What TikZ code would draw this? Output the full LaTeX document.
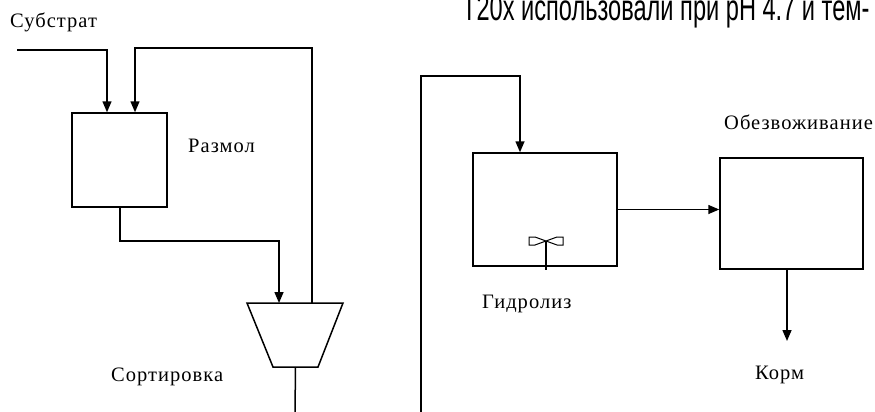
\documentclass[tikz,border=0pt]{standalone}
\usepackage{fontspec}
\setmainfont[LetterSpace=5]{Liberation Serif}
\newfontfamily\arialf{Liberation Sans}
\usetikzlibrary{arrows.meta,calc}
\begin{document}
\begin{tikzpicture}[x=1pt,y=-1pt,
  ln/.style={line width=1.5pt},
  arr/.style={ln,-{Triangle[width=9pt,length=11pt]}},
  box/.style={draw,ln,rectangle,inner sep=0pt},
  lbl/.style={font=\fontsize{20.5}{20.5}\selectfont,inner sep=0pt,anchor=base west}]
\useasboundingbox (0,0) rectangle (875,412);
\clip (0,0) rectangle (875,412);
% top text (cut at the top edge, as in the reference)
\node[font=\arialf\fontsize{23.6}{23.6}\selectfont,inner sep=0pt,anchor=base west] (toptext) at (462,21) {\scalebox{1}[1.55]{Т20х использовали при рН 4.7 и тем-}};
% boxes
\node[box,minimum width=95pt,minimum height=94pt] (razmol) at (119.5,160) {};
\node[box,minimum width=144pt,minimum height=113pt] (hydro) at (545,209.5) {};
\node[box,minimum width=143pt,minimum height=111pt] (dewat) at (791.5,213.5) {};
% sorter trapezoid
\coordinate (sTL) at (247,303);
\coordinate (sTR) at (343,303);
\coordinate (sBR) at (318,367);
\coordinate (sBL) at (273,367);
\draw[ln] (sTL) -- (sTR) -- (sBR) -- (sBL) -- cycle;
% labels
\node[lbl] (lsub) at (10,28) {Субстрат};
\node[lbl] (lraz) at (188,152) {Размол};
\node[lbl] (lsort) at (111,381) {Сортировка};
\node[lbl] (lhyd) at (482,308) {Гидролиз};
\node[lbl] (ldew) at (724,129) {Обезвоживание};
\node[lbl] (lkorm) at (755,379) {Корм};
% coordinates for free ends
\coordinate (subIn) at (17,50);
\coordinate (subX) at (107,50);
\coordinate (retX) at (135,48);
\coordinate (retY) at (312,48);
\coordinate (midY) at (120,241);
\coordinate (sortIn) at (279,241);
\coordinate (sortOut) at (295,412);
\coordinate (longBot) at (421,412);
\coordinate (longTop) at (421,76);
\coordinate (hydIn) at (520,76);
\coordinate (kormEnd) at (787,341);
% substrate feed
\draw[arr] (subIn) -- (subX) -- (subX |- razmol.north);
% return from sorter
\draw[arr] (retY |- sTR) -- (retY) -- (retX) -- (retX |- razmol.north);
% razmol -> sorter
\draw[arr] (razmol.south -| midY) -- (midY) -- (sortIn) -- (sortIn |- sTL);
% sorter out
\draw[ln] ($(sBL)!0.5!(sBR)$) -- (sortOut);
% long feed into hydrolysis
\draw[arr] (longBot) -- (longTop) -- (hydIn) -- (hydIn |- hydro.north);
% hydro -> dewat
\draw[arr] (hydro.east) -- (hydro.east -| dewat.west);
% dewat -> korm
\draw[arr] (kormEnd |- dewat.south) -- (kormEnd);
% stirrer
\coordinate (stC) at (546,241);
\draw[line width=1.2pt] (stC) -- (stC |- hydro.south) -- ++(0,3);
\draw[line width=1pt] (535,237) -- (529,237) -- (529,245) -- (535,245)
  (535,237) -- (stC) -- (535,245)
  (557,237) -- (563,237) -- (563,245) -- (557,245)
  (557,237) -- (stC) -- (557,245);
\end{tikzpicture}
\end{document}
